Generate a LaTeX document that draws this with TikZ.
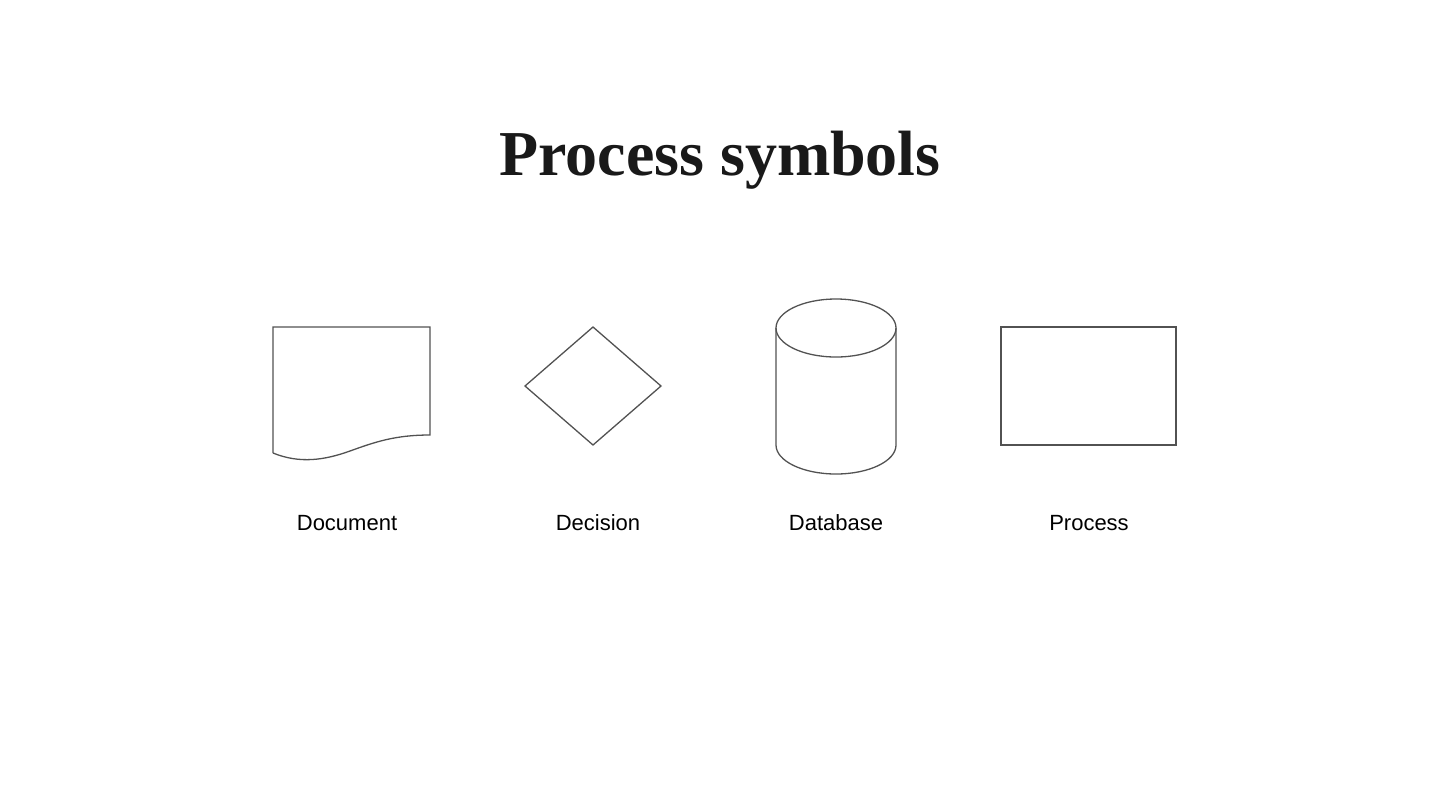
\documentclass[tikz,border=0pt]{standalone}
\usepackage{fontspec}
\setmainfont{Liberation Serif}
\setsansfont{Liberation Sans}
\usepackage{tikz}

\begin{document}
\begin{tikzpicture}[x=0.5pt,y=-0.5pt]

  \useasboundingbox (0,0) rectangle (1440,810);
  \tikzset{outline/.style={draw=black!68, line width=0.65pt},
    caption/.style={anchor=base, font=\sffamily\fontsize{11}{13}\selectfont}}

  \node[anchor=base, text=black!90, font=\bfseries\fontsize{32}{38}\selectfont] (title) at (720,175) {Process symbols};

  % document
  \draw[outline] (273,453) -- (273,327) -- (430,327) -- (430,435)
    .. controls (395,435) and (375,442) .. (350,451)
    .. controls (325,460) and (300,464) .. (273,453);
  \node[caption] (doc) at (347,530) {Document};

  % decision
  \draw[outline] (593,327) -- (661,386) -- (593,445) -- (525,386) -- cycle;
  \node[caption] (dec) at (598,530) {Decision};

  % database
  \draw[outline] (836,328) ellipse [x radius=60, y radius=29];
  \draw[outline] (776,328) -- (776,445) arc [start angle=180, end angle=0, x radius=60, y radius=29] -- (896,328);
  \node[caption] (db) at (836,530) {Database};

  % process
  \draw[outline] (1001,327) rectangle (1176,445);
  \node[caption] (proc) at (1089,530) {Process};

\end{tikzpicture}
\end{document}
